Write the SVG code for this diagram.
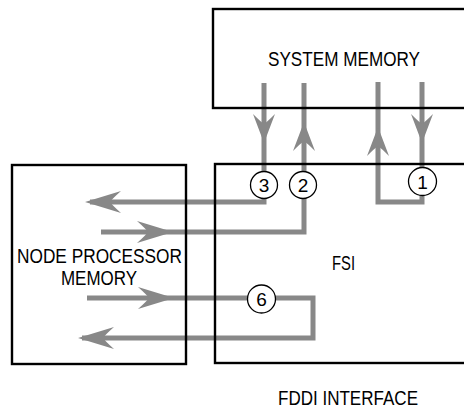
<svg xmlns="http://www.w3.org/2000/svg" width="464" height="408" viewBox="0 0 464 408">
<style>
.box{fill:none;stroke:#000;stroke-width:2.4}
.ln{fill:none;stroke:#888;stroke-width:5;stroke-linejoin:miter;stroke-linecap:butt}
.ah{fill:#888;stroke:none}
.lbl{font-family:"Liberation Sans",Arial,sans-serif;font-size:21px;fill:#000}
.num{font-family:"Liberation Sans",Arial,sans-serif;font-size:19px;fill:#000;text-anchor:middle}
.cir{fill:#fff;stroke:#000;stroke-width:1.3}
</style>
<defs>
<path id="ahH" d="M0,0 L-36,-11 Q-27,-3 -25,0 Q-27,3 -36,11 Z"/>
<path id="ahV" d="M0,0 L-29,-11 Q-21,-3 -19,0 Q-21,3 -29,11 Z"/>
</defs>
<rect width="464" height="408" fill="#fff"/>
<g id="connectors">
<path class="ln" d="M264,83 V202 H90"/>
<path class="ln" d="M101,232 H304 V83"/>
<path class="ln" d="M378,82 V202 H422 V82"/>
<path class="ln" d="M87,298 H313 V338 H82"/>
<use href="#ahH" class="ah" transform="translate(85,202) rotate(180)"/>
<use href="#ahH" class="ah" transform="translate(173,232)"/>
<use href="#ahH" class="ah" transform="translate(174,298)"/>
<use href="#ahH" class="ah" transform="translate(78,338) rotate(180)"/>
<use href="#ahV" class="ah" transform="translate(264,143) rotate(90)"/>
<use href="#ahV" class="ah" transform="translate(304,122) rotate(-90)"/>
<use href="#ahV" class="ah" transform="translate(378,127) rotate(-90)"/>
<use href="#ahV" class="ah" transform="translate(422,143) rotate(90)"/>
</g>
<g id="system-memory">
<rect class="box" x="213" y="9" width="300" height="99"/>
<text class="lbl" x="268" y="66" textLength="152" lengthAdjust="spacingAndGlyphs">SYSTEM MEMORY</text>
</g>
<g id="fsi">
<rect class="box" x="215" y="164" width="300" height="199"/>
<text class="lbl" x="332" y="270" textLength="23" lengthAdjust="spacingAndGlyphs">FSI</text>
</g>
<g id="node-processor-memory">
<rect class="box" x="12" y="165" width="174" height="199"/>
<text class="lbl" x="17" y="263" textLength="165" lengthAdjust="spacingAndGlyphs">NODE PROCESSOR</text>
<text class="lbl" x="61" y="285" textLength="76" lengthAdjust="spacingAndGlyphs">MEMORY</text>
</g>
<g id="labels">
<circle class="cir" cx="264" cy="185" r="13.5"/>
<text class="num" x="264" y="192">3</text>
<circle class="cir" cx="303" cy="185" r="13.5"/>
<text class="num" x="303" y="192">2</text>
<circle class="cir" cx="422.5" cy="181.5" r="14"/>
<text class="num" x="422.5" y="188.5">1</text>
<circle class="cir" cx="261.5" cy="299" r="14"/>
<text class="num" x="261.5" y="306">6</text>
</g>
<g id="fddi-interface">
<text class="lbl" x="278" y="405" textLength="140" lengthAdjust="spacingAndGlyphs">FDDI INTERFACE</text>
</g>
</svg>
